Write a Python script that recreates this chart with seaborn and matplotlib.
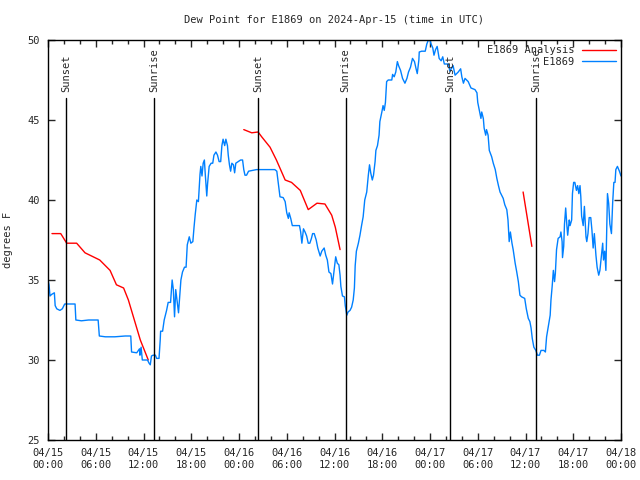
import numpy as np
import pandas as pd
import matplotlib
matplotlib.use("Agg")
import matplotlib.pyplot as plt
import seaborn as sns

# 시간은 04/15 00:00 UTC 기준 경과 시간(시간 단위)
obs_hours = [0.0, 0.13, 0.25, 0.46, 0.8, 0.9, 1.1, 1.5, 1.8, 2.1, 2.75, 3.4, 3.5, 4.2, 5.1, 6.3, 6.45, 7.2,
             8.4, 9.7, 10.4, 10.5, 11.15, 11.5, 11.55, 11.7, 11.85, 12.5, 12.7, 12.85, 13.0, 13.2, 13.5,
             13.65, 13.95, 14.1, 14.15, 14.4, 14.6, 14.9, 15.1, 15.4, 15.6, 15.75, 15.9, 16.05, 16.25,
             16.4, 16.6, 16.7, 16.9, 17.15, 17.35, 17.5, 17.75, 17.95, 18.2, 18.35, 18.5, 18.7, 18.9,
             19.1, 19.2, 19.35, 19.5, 19.65, 19.75, 19.95, 20.05, 20.25, 20.5, 20.7, 20.85, 21.1, 21.3,
             21.5, 21.7, 21.85, 22.0, 22.2, 22.35, 22.55, 22.65, 22.8, 22.95, 23.1, 23.3, 23.45, 23.6,
             23.9, 24.2, 24.45, 24.6, 24.75, 24.95, 25.2, 26.2, 28.5, 28.75, 28.95, 29.15, 29.55, 29.8,
             30.0, 30.2, 30.3, 30.5, 30.7, 31.6, 31.75, 31.9, 32.1, 32.3, 32.5, 32.7, 32.9, 33.1, 33.25,
             33.45, 33.7, 33.9, 34.2, 34.4, 34.7, 34.9, 35.1, 35.3, 35.55, 35.75, 35.95, 36.15, 36.35,
             36.55, 36.7, 36.8, 37.0, 37.25, 37.35, 37.55, 37.7, 37.95, 38.15, 38.35, 38.5, 38.6, 38.75,
             39.0, 39.2, 39.4, 39.6, 39.8, 40.05, 40.25, 40.4, 40.55, 40.75, 40.9, 41.1, 41.2, 41.4,
             41.6, 41.7, 41.95, 42.1, 42.25, 42.4, 42.55, 42.75, 43.2, 43.3, 43.5, 43.7, 43.9, 44.05,
             44.3, 44.55, 44.85, 45.1, 45.3, 45.55, 45.8, 46.05, 46.25, 46.4, 46.6, 46.65, 46.95, 47.4,
             47.6, 47.8, 48.0, 48.1, 48.35, 48.5, 48.7, 48.9, 49.15, 49.4, 49.6, 49.8, 50.3, 50.5, 50.9,
             51.15, 51.55, 51.85, 52.0, 52.2, 52.4, 52.8, 53.15, 53.65, 53.9, 54.0, 54.2, 54.4, 54.5,
             54.7, 54.8, 55.0, 55.1, 55.3, 55.45, 55.75, 55.95, 56.2, 56.4, 56.6, 56.8, 57.0, 57.2,
             57.4, 57.65, 57.8, 57.95, 58.1, 58.3, 58.45, 58.7, 58.9, 59.1, 59.3, 59.5, 59.9, 60.1,
             60.35, 60.55, 60.7, 60.85, 61.05, 61.3, 61.5, 61.75, 61.95, 62.3, 62.5, 62.65, 62.9, 63.1,
             63.2, 63.35, 63.5, 63.65, 63.75, 63.9, 64.1, 64.35, 64.45, 64.6, 64.65, 64.8, 64.9, 65.05,
             65.2, 65.3, 65.5, 65.6, 65.8, 65.9, 66.05, 66.2, 66.4, 66.55, 66.7, 66.85, 66.95, 67.05,
             67.25, 67.4, 67.6, 67.7, 67.85, 68.0, 68.2, 68.35, 68.5, 68.65, 68.85, 69.0, 69.2, 69.35,
             69.5, 69.7, 69.8, 69.95, 70.1, 70.2, 70.3, 70.45, 70.6, 70.8, 70.95, 71.1, 71.25, 71.35,
             71.55, 71.8, 72.0]
obs_dewpt = [35.0, 34.7, 34.0, 34.1, 34.2, 33.4, 33.2, 33.1, 33.2, 33.5, 33.5, 33.5, 32.5, 32.45, 32.5, 32.5,
             31.5, 31.45, 31.45, 31.5, 31.5, 30.5, 30.45, 30.7, 30.3, 30.8, 30.0, 30.0, 29.8, 29.7, 30.25,
             30.3, 30.3, 30.1, 30.1, 31.25, 31.8, 31.8, 32.5, 33.1, 33.6, 33.6, 35.0, 34.4, 32.7, 34.4,
             33.55, 32.95, 34.3, 35.0, 35.5, 35.8, 35.8, 37.2, 37.7, 37.3, 37.4, 38.3, 39.1, 40.0, 39.9,
             41.6, 42.1, 41.5, 42.3, 42.5, 41.7, 40.25, 41.0, 42.1, 42.3, 42.3, 42.8, 43.0, 42.8, 42.4,
             42.4, 43.4, 43.8, 43.4, 43.8, 43.4, 42.8, 42.2, 41.8, 42.3, 42.2, 41.7, 42.3, 42.4, 42.5,
             42.5, 41.9, 41.55, 41.55, 41.8, 41.9, 41.9, 41.8, 41.0, 40.2, 40.15, 39.9, 39.2, 38.85,
             39.2, 38.85, 38.4, 38.4, 38.0, 37.3, 38.2, 38.0, 37.75, 37.3, 37.3, 37.6, 37.9, 37.9, 37.5,
             37.0, 36.5, 36.8, 37.0, 36.55, 36.25, 35.5, 35.4, 34.75, 35.6, 36.45, 36.05, 35.95, 35.3,
             34.6, 34.0, 33.95, 33.4, 32.8, 33.0, 33.1, 33.3, 33.75, 34.5, 35.9, 36.8, 37.3, 37.8, 38.4,
             38.95, 40.0, 40.5, 41.55, 42.2, 41.7, 41.25, 41.55, 42.4, 43.1, 43.4, 44.05, 44.9, 45.5,
             45.9, 45.6, 46.1, 47.4, 47.5, 47.5, 47.85, 47.7, 48.0, 48.65, 48.4, 48.1, 47.6, 47.3, 47.6,
             48.0, 48.3, 48.85, 48.65, 48.2, 47.9, 48.75, 49.25, 49.3, 49.3, 49.75, 50.0, 50.0, 49.8,
             49.5, 49.05, 49.4, 49.6, 48.85, 48.7, 48.95, 48.5, 48.5, 48.05, 48.4, 47.8, 48.0, 48.2,
             47.7, 47.3, 47.6, 47.4, 47.0, 46.9, 46.7, 46.1, 45.6, 45.1, 45.5, 45.1, 44.5, 44.05, 44.4,
             44.05, 43.1, 42.7, 42.3, 41.9, 41.35, 40.9, 40.5, 40.3, 40.1, 39.7, 39.4, 38.75, 37.4, 38.0,
             37.3, 36.9, 36.05, 35.5, 34.9, 34.05, 33.95, 33.85, 33.2, 32.6, 32.4, 32.0, 31.35, 30.8,
             30.6, 30.3, 30.3, 30.6, 30.6, 30.5, 31.45, 32.2, 32.8, 33.75, 34.6, 35.6, 34.9, 35.4, 36.9,
             37.6, 37.7, 38.0, 37.4, 36.4, 37.1, 38.5, 39.5, 38.4, 37.8, 38.75, 38.4, 38.75, 40.4, 41.1,
             41.1, 40.6, 40.9, 40.4, 40.9, 40.2, 39.0, 38.4, 39.6, 37.7, 37.4, 37.9, 38.9, 38.9, 38.1,
             37.0, 37.9, 36.55, 35.8, 35.3, 35.6, 36.35, 37.3, 36.25, 36.8, 35.6, 37.9, 40.4, 39.8, 38.5,
             37.9, 39.8, 41.1, 41.1, 41.9, 42.1, 41.8, 41.5]

# 분석값(빨간선) - 세 구간
ana1_hours = [0.5, 1.6, 2.35, 3.6, 4.65, 6.5, 7.8, 8.6, 9.5, 10.1, 11.6, 12.6]
ana1_dewpt = [37.9, 37.9, 37.3, 37.3, 36.7, 36.25, 35.6, 34.7, 34.5, 33.75, 31.25, 30.0]
ana2_hours = [24.6, 25.6, 26.4, 26.85, 27.9, 28.7, 29.8, 30.6, 31.7, 32.7, 33.8, 34.8, 35.65, 36.1, 36.7]
ana2_dewpt = [44.4, 44.2, 44.25, 43.95, 43.3, 42.5, 41.25, 41.1, 40.6, 39.4, 39.8, 39.75, 39.05, 38.3, 36.9]
ana3_hours = [59.7, 60.8]
ana3_dewpt = [40.5, 37.1]

# 일출/일몰 시각
sun_labels = ["Sunset", "Sunrise", "Sunset", "Sunrise", "Sunset", "Sunrise"]
sun_hours = [2.26, 13.3, 26.4, 37.4, 50.5, 61.3]

tick_hours = list(range(0, 73, 6))
tick_labels = ["04/15\n00:00", "04/15\n06:00", "04/15\n12:00", "04/15\n18:00",
               "04/16\n00:00", "04/16\n06:00", "04/16\n12:00", "04/16\n18:00",
               "04/17\n00:00", "04/17\n06:00", "04/17\n12:00", "04/17\n18:00",
               "04/18\n00:00"]

sns.set_style("ticks")
plt.rcParams['font.family'] = ['DejaVu Sans Mono']
plt.rcParams['font.size'] = 7.5

fig = plt.figure(figsize=(6.4, 4.8), dpi=100)
ax = fig.add_axes([48 / 640, 40 / 480, 573 / 640, 400 / 480])

red = "#ff0000"
blue = "#0080ff"

sns.lineplot(x=ana1_hours, y=ana1_dewpt, ax=ax, color=red, linewidth=1,
             estimator=None, sort=False, label="E1869 Analysis")
sns.lineplot(x=ana2_hours, y=ana2_dewpt, ax=ax, color=red, linewidth=1, estimator=None, sort=False)
sns.lineplot(x=ana3_hours, y=ana3_dewpt, ax=ax, color=red, linewidth=1, estimator=None, sort=False)
sns.lineplot(x=obs_hours, y=obs_dewpt, ax=ax, color=blue, linewidth=1,
             estimator=None, sort=False, label="E1869")

for lab, h in zip(sun_labels, sun_hours):
    ax.plot([h, h], [25, 46.35], color="black", linewidth=1)
    ax.text(h, 46.75, lab, rotation=90, ha="center", va="bottom", fontsize=7.5)

ax.set_xlim(0, 72)
ax.set_ylim(25, 50)
ax.set_xticks(tick_hours)
ax.set_xticklabels(tick_labels)
ax.set_xticks(range(0, 73, 2), minor=True)
ax.set_yticks(range(25, 51, 5))
ax.tick_params(axis="both", which="both", direction="in", top=True, right=True, width=1)
ax.tick_params(axis="both", which="major", length=5, pad=6)
ax.tick_params(axis="x", which="minor", length=3)
for s in ax.spines.values():
    s.set_linewidth(1)
    s.set_color("black")

ax.set_xlabel("")
ax.set_ylabel("degrees F", labelpad=10)
ax.set_title("Dew Point for E1869 on 2024-Apr-15 (time in UTC)", fontsize=7.5, pad=12)

leg = ax.legend(loc="upper right", frameon=False, markerfirst=False, handlelength=3.2,
                borderaxespad=0.1, labelspacing=0.15, fontsize=7.5)
for t in leg.get_texts():
    t.set_ha("right")

fig.savefig("out.png", dpi=100)
